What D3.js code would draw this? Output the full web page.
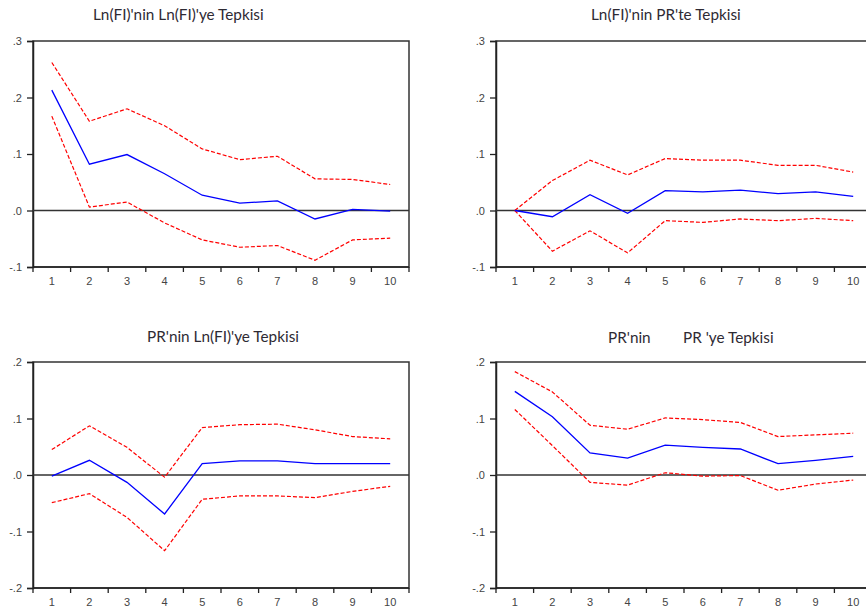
<!DOCTYPE html>
<html lang="tr">
<head>
<meta charset="utf-8">
<script src="https://d3js.org/d3.v7.min.js"></script>
<style>
  body { margin: 0; background: #fff; }
  svg { display: block; }
</style>
</head>
<body>
<div id="chart"></div>
<script>
// periods on the x axis
const periods = [1, 2, 3, 4, 5, 6, 7, 8, 9, 10];

// Ln(FI)'nin Ln(FI)'ye Tepkisi
const fiFiResp  = [0.213, 0.082, 0.099, 0.065, 0.027, 0.013, 0.017, -0.015, 0.002, -0.001];
const fiFiUpper = [0.262, 0.158, 0.180, 0.150, 0.109, 0.090, 0.096, 0.056, 0.055, 0.046];
const fiFiLower = [0.167, 0.006, 0.015, -0.022, -0.052, -0.065, -0.062, -0.088, -0.052, -0.049];

// Ln(FI)'nin PR'te Tepkisi
const fiPrResp  = [0.000, -0.011, 0.028, -0.005, 0.035, 0.033, 0.036, 0.030, 0.033, 0.025];
const fiPrUpper = [0.000, 0.053, 0.089, 0.063, 0.092, 0.089, 0.089, 0.080, 0.080, 0.068];
const fiPrLower = [0.000, -0.072, -0.036, -0.075, -0.018, -0.021, -0.015, -0.018, -0.014, -0.018];

// PR'nin Ln(FI)'ye Tepkisi
const prFiResp  = [-0.002, 0.026, -0.013, -0.069, 0.020, 0.025, 0.025, 0.020, 0.020, 0.020];
const prFiUpper = [0.045, 0.087, 0.049, -0.004, 0.084, 0.089, 0.090, 0.080, 0.068, 0.064];
const prFiLower = [-0.049, -0.033, -0.075, -0.134, -0.043, -0.037, -0.037, -0.040, -0.029, -0.020];

// PR'nin PR'ye Tepkisi
const prPrResp  = [0.148, 0.103, 0.039, 0.030, 0.053, 0.049, 0.046, 0.020, 0.026, 0.033];
const prPrUpper = [0.183, 0.147, 0.088, 0.081, 0.101, 0.098, 0.093, 0.068, 0.071, 0.074];
const prPrLower = [0.116, 0.052, -0.013, -0.018, 0.004, -0.002, -0.001, -0.027, -0.016, -0.009];

// y tick labels
const ticksTop = [0.3, 0.2, 0.1, 0.0, -0.1];
const ticksBottom = [0.2, 0.1, 0.0, -0.1, -0.2];

const W = 866, H = 613;

const svg = d3.select("#chart")
  .append("svg")
    .attr("width", W)
    .attr("height", H);

const panels = [
  { title: ["Ln(FI)'nin Ln(FI)'ye Tepkisi"], tx: [93], ty: 20,
    left: 33, right: 409, top: 41, bottom: 267, domain: [-0.1, 0.3], ticks: ticksTop,
    resp: fiFiResp, upper: fiFiUpper, lower: fiFiLower },
  { title: ["Ln(FI)'nin PR'te Tepkisi"], tx: [591], ty: 20,
    left: 496, right: 872, top: 41, bottom: 267, domain: [-0.1, 0.3], ticks: ticksTop,
    resp: fiPrResp, upper: fiPrUpper, lower: fiPrLower },
  { title: ["PR'nin Ln(FI)'ye Tepkisi"], tx: [147], ty: 342,
    left: 33, right: 409, top: 362, bottom: 588, domain: [-0.2, 0.2], ticks: ticksBottom,
    resp: prFiResp, upper: prFiUpper, lower: prFiLower },
  { title: ["PR'nin", "PR 'ye Tepkisi"], tx: [608, 683], ty: 343,
    left: 496, right: 872, top: 362, bottom: 588, domain: [-0.2, 0.2], ticks: ticksBottom,
    resp: prPrResp, upper: prPrUpper, lower: prPrLower }
];

// ".3", ".0", "-.1" like the original
const fmt = v => d3.format(".1f")(v).replace("\u2212", "-").replace("0.", ".");

panels.forEach(p => {
  const g = svg.append("g");

  const x = d3.scaleBand()
    .domain(periods)
    .range([p.left, p.right])
    .padding(0);

  const y = d3.scaleLinear()
    .domain(p.domain)
    .range([p.bottom, p.top]);

  const cx = d => x(d) + x.bandwidth() / 2;

  // title
  p.title.forEach((t, i) => {
    g.append("text")
      .attr("x", p.tx[i])
      .attr("y", p.ty)
      .attr("font-family", "Lato, 'Open Sans', sans-serif")
      .attr("font-size", 15.3)
      .attr("fill", "#2e2a33")
      .text(t);
  });

  // frame
  g.append("rect")
    .attr("x", p.left)
    .attr("y", p.top)
    .attr("width", p.right - p.left)
    .attr("height", p.bottom - p.top)
    .attr("fill", "none")
    .attr("stroke", "#333")
    .attr("stroke-width", 1.5);

  // y axis
  const yAxis = g.append("g")
    .attr("transform", `translate(${p.left},0)`)
    .call(d3.axisLeft(y).tickValues(p.ticks).tickFormat(fmt).tickSize(6).tickPadding(5));
  yAxis.select(".domain").attr("stroke", "#222").attr("stroke-width", 1.5);
  yAxis.selectAll(".tick line").attr("stroke", "#222").attr("stroke-width", 1.3);
  yAxis.selectAll("text")
    .attr("font-family", "'Liberation Sans', Arial, sans-serif")
    .attr("font-size", 11)
    .attr("fill", "#444");

  // x axis: ticks on band edges, labels in band centres
  const xAxis = g.append("g")
    .attr("transform", `translate(0,${p.bottom})`);
  xAxis.append("line")
    .attr("x1", p.left).attr("x2", p.right)
    .attr("stroke", "#222").attr("stroke-width", 1.5);
  xAxis.selectAll(".xt")
    .data(periods.map(d => x(d)).concat([p.right]))
    .join("line")
      .attr("class", "xt")
      .attr("x1", d => d).attr("x2", d => d)
      .attr("y1", 0).attr("y2", 5)
      .attr("stroke", "#222").attr("stroke-width", 1.3);
  xAxis.selectAll(".xl")
    .data(periods)
    .join("text")
      .attr("class", "xl")
      .attr("x", d => cx(d))
      .attr("y", 18)
      .attr("text-anchor", "middle")
      .attr("font-family", "'Liberation Sans', Arial, sans-serif")
      .attr("font-size", 11)
      .attr("fill", "#444")
      .text(d => d);

  // zero line
  g.append("line")
    .attr("x1", p.left).attr("x2", p.right)
    .attr("y1", y(0)).attr("y2", y(0))
    .attr("stroke", "#333")
    .attr("stroke-width", 1.6);

  const line = d3.line()
    .x((d, i) => cx(periods[i]))
    .y(d => y(d));

  // confidence bands
  [p.upper, p.lower].forEach(band => {
    g.append("path")
      .datum(band)
      .attr("d", line)
      .attr("fill", "none")
      .attr("stroke", "#ff0000")
      .attr("stroke-width", 1.2)
      .attr("stroke-dasharray", "4,2");
  });

  // response
  g.append("path")
    .datum(p.resp)
    .attr("d", line)
    .attr("fill", "none")
    .attr("stroke", "#0000ff")
    .attr("stroke-width", 1.3);
});
</script>
</body>
</html>
